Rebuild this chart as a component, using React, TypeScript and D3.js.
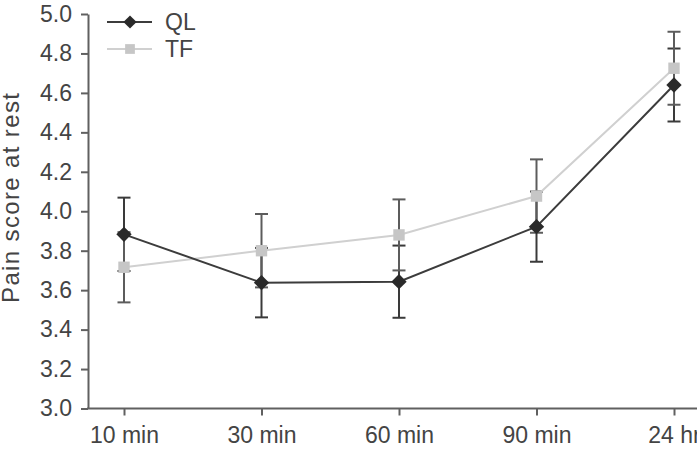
import * as d3 from 'd3';
import { useEffect, useRef } from 'react';

const WIDTH = 697;
const HEIGHT = 453;

const timePoints = ['10 min', '30 min', '60 min', '90 min', '24 hr'];
const qlMeans = [3.883, 3.638, 3.643, 3.922, 4.64];
const qlErrors = [0.186, 0.176, 0.183, 0.178, 0.185];
const tfMeans = [3.716, 3.8, 3.88, 4.077, 4.725];
const tfErrors = [0.178, 0.186, 0.18, 0.186, 0.185];
const yTicks = [3.0, 3.2, 3.4, 3.6, 3.8, 4.0, 4.2, 4.4, 4.6, 4.8, 5.0];

const FONT = '"Liberation Sans", Arial, Helvetica, sans-serif';
const TEXT = '#444';
const AXIS = '#606060';

export default function App() {
    const svgRef = useRef(null);

    useEffect(() => {
        if (!svgRef.current) {
            return;
        }
        const svg = d3.select(svgRef.current);
        svg.selectAll('*').remove();

        const axisX = 88;
        const axisY = 408.5;
        const x = d3.scalePoint().domain(timePoints).range([124, 674]);
        const y = d3.scaleLinear().domain([3, 5]).range([axisY, 14]);

        // y axis
        const yAxis = svg
            .append('g')
            .attr('transform', `translate(${axisX},0)`)
            .call(
                d3
                    .axisLeft(y)
                    .tickValues(yTicks)
                    .tickSize(7)
                    .tickSizeOuter(0)
                    .tickPadding(9)
                    .tickFormat(d3.format('.1f')),
            );
        yAxis.selectAll('path, line').attr('stroke', AXIS).attr('stroke-width', 2);
        yAxis
            .selectAll('text')
            .attr('fill', TEXT)
            .attr('font-family', FONT)
            .attr('font-size', '23px');

        // x axis (line runs past the last category to the edge)
        const xAxis = svg
            .append('g')
            .attr('transform', `translate(0,${axisY})`)
            .call(d3.axisBottom(x).tickSize(7).tickSizeOuter(0).tickPadding(11));
        xAxis.select('.domain').remove();
        xAxis
            .append('line')
            .attr('x1', axisX - 1)
            .attr('x2', WIDTH);
        xAxis.selectAll('line').attr('stroke', AXIS).attr('stroke-width', 2);
        xAxis
            .selectAll('text')
            .attr('fill', TEXT)
            .attr('font-family', FONT)
            .attr('font-size', '23px');

        svg.append('text')
            .attr('transform', `translate(19,198) rotate(-90)`)
            .attr('text-anchor', 'middle')
            .attr('fill', TEXT)
            .attr('font-family', FONT)
            .attr('font-size', '24px')
            .attr('textLength', 210)
            .attr('lengthAdjust', 'spacing')
            .text('Pain score at rest');

        const series = [
            {
                name: 'QL',
                means: qlMeans,
                errors: qlErrors,
                line: '#3c3c3c',
                marker: '#2a2a2a',
                err: '#3a3a3a',
                symbol: d3.symbolDiamond2,
            },
            {
                name: 'TF',
                means: tfMeans,
                errors: tfErrors,
                line: '#d0d0d0',
                marker: '#c6c6c6',
                err: '#5c5c5c',
                symbol: d3.symbolSquare,
            },
        ];

        const capW = 6.5;
        // error bars first, markers cover the inner caps
        series.forEach((s) => {
            const g = svg.append('g').attr('stroke', s.err).attr('stroke-width', 2);
            s.means.forEach((m, i) => {
                const cx = x(timePoints[i]);
                const lo = y(m - s.errors[i]);
                const hi = y(m + s.errors[i]);
                g.append('line').attr('x1', cx).attr('x2', cx).attr('y1', lo).attr('y2', hi);
                g.append('line').attr('x1', cx - capW).attr('x2', cx + capW).attr('y1', lo).attr('y2', lo);
                g.append('line').attr('x1', cx - capW).attr('x2', cx + capW).attr('y1', hi).attr('y2', hi);
            });
        });

        const line = d3
            .line()
            .x((d, i) => x(timePoints[i]))
            .y((d) => y(d));

        // TF drawn below QL
        [series[1], series[0]].forEach((s) => {
            svg.append('path')
                .attr('d', line(s.means))
                .attr('fill', 'none')
                .attr('stroke', s.line)
                .attr('stroke-width', 2);
            const sym = d3.symbol().type(s.symbol).size(s.name === 'QL' ? 150 : 130);
            s.means.forEach((m, i) => {
                svg.append('path')
                    .attr('d', sym())
                    .attr('transform', `translate(${x(timePoints[i])},${y(m)})`)
                    .attr('fill', s.marker);
            });
        });

        // legend
        const legendRows = [
            { s: series[0], y: 22 },
            { s: series[1], y: 49 },
        ];
        legendRows.forEach(({ s, y: ly }) => {
            const g = svg.append('g').attr('transform', `translate(0,${ly})`);
            g.append('line')
                .attr('x1', 107)
                .attr('x2', 152)
                .attr('stroke', s.line)
                .attr('stroke-width', 2);
            g.append('path')
                .attr('d', d3.symbol().type(s.symbol).size(s.name === 'QL' ? 110 : 95)())
                .attr('transform', 'translate(130,0)')
                .attr('fill', s.marker);
            g.append('text')
                .attr('x', 165)
                .attr('y', 8)
                .attr('fill', TEXT)
                .attr('font-family', FONT)
                .attr('font-size', '23px')
                .text(s.name);
        });
    }, []);

    return (
        <svg
            ref={svgRef}
            width={WIDTH}
            height={HEIGHT}
            style={{ position: 'absolute', left: 0, top: 0, display: 'block', background: '#fff' }}
        />
    );
}
